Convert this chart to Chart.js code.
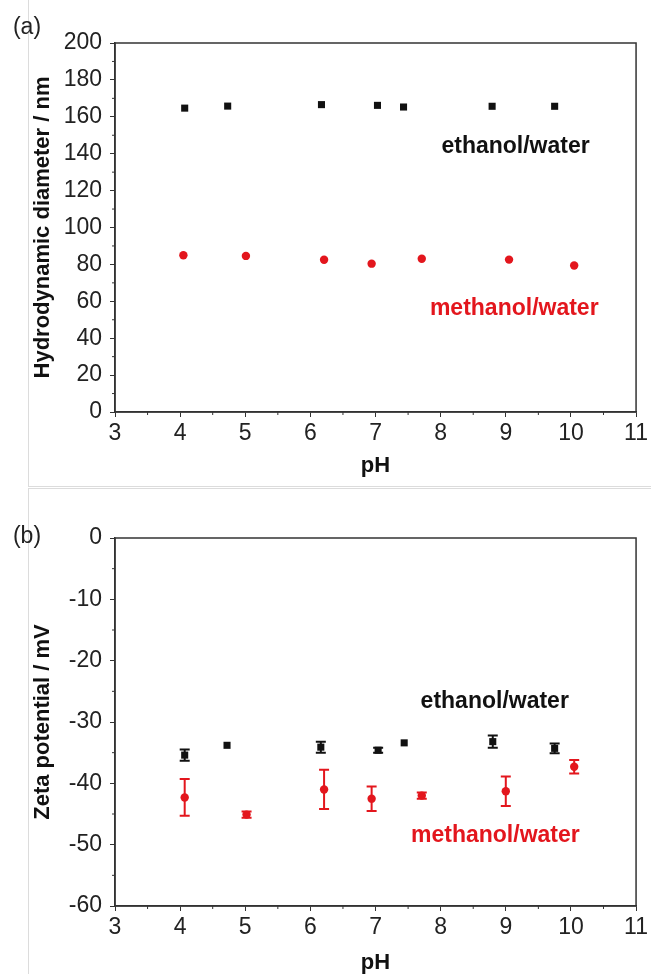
<!DOCTYPE html>
<html>
<head>
<meta charset="utf-8">
<script src="https://cdn.jsdelivr.net/npm/chart.js@4.4.1/dist/chart.umd.min.js"></script>
<style>
  html, body { margin: 0; padding: 0; background: #fff; }
  body { width: 651px; height: 974px; position: relative; overflow: hidden; }
  .panel { position: absolute; left: 28px; right: 0; border-left: 1px solid #dcdcdc; }
  #panelA { top: 0; height: 486px; border-bottom: 1px solid #dcdcdc; }
  #panelB { top: 488px; bottom: 0; border-top: 1px solid #dcdcdc; }
  .plot { position: absolute; left: 0; width: 651px; }
  #sizeWrap { top: 0; height: 487px; }
  #zetaWrap { top: 488px; height: 486px; }
</style>
</head>
<body>
<div class="panel" id="panelA"></div>
<div class="panel" id="panelB"></div>
<div class="plot" id="sizeWrap"><canvas id="sizeChart"></canvas></div>
<div class="plot" id="zetaWrap"><canvas id="zetaChart"></canvas></div>

<script>
// (a) hydrodynamic diameter vs pH
const phEthanolSize = [4.07, 4.73, 6.17, 7.03, 7.43, 8.79, 9.75];
const sizeEthanol = [164.7, 165.8, 166.6, 166.2, 165.3, 165.7, 165.7];
const phMethanolSize = [4.05, 5.01, 6.21, 6.94, 7.71, 9.05, 10.05];
const sizeMethanol = [85.0, 84.6, 82.5, 80.4, 83.1, 82.6, 79.4];

// (b) zeta potential vs pH, with standard deviations
const phEthanolZeta = [4.07, 4.72, 6.16, 7.04, 7.44, 8.80, 9.75];
const zetaEthanol = [-35.4, -33.8, -34.1, -34.6, -33.4, -33.2, -34.3];
const zetaEthanolErr = [0.9, 0, 0.9, 0.4, 0, 1.0, 0.8];
const phMethanolZeta = [4.07, 5.02, 6.21, 6.94, 7.71, 9.00, 10.05];
const zetaMethanol = [-42.3, -45.1, -41.0, -42.5, -42.0, -41.3, -37.3];
const zetaMethanolErr = [3.0, 0.5, 3.2, 2.0, 0.5, 2.4, 1.1];

const FONT = "'Liberation Sans', Arial, sans-serif";
const BLACK = "#111111";
const RED = "#e3161d";

const pts = (xs, ys) => xs.map((x, i) => ({ x: x, y: ys[i] }));

// frame, minor ticks, error bars and in-plot labels
const extras = {
  id: "extras",
  beforeDatasetsDraw(chart) {
    const ctx = chart.ctx, ys = chart.scales.y;
    chart.data.datasets.forEach((ds, i) => {
      if (!ds.errors) return;
      chart.getDatasetMeta(i).data.forEach((el, j) => {
        const v = ds.data[j].y, e = ds.errors[j];
        if (!e) return;
        const top = ys.getPixelForValue(v + e), bot = ys.getPixelForValue(v - e);
        ctx.save();
        ctx.strokeStyle = ds.backgroundColor;
        ctx.lineWidth = 2;
        ctx.beginPath();
        ctx.moveTo(el.x, top); ctx.lineTo(el.x, bot);
        ctx.moveTo(el.x - 5, top); ctx.lineTo(el.x + 5, top);
        ctx.moveTo(el.x - 5, bot); ctx.lineTo(el.x + 5, bot);
        ctx.stroke();
        ctx.restore();
      });
    });
  },
  afterDraw(chart, args, opts) {
    const ctx = chart.ctx, a = chart.chartArea;
    const xs = chart.scales.x, ys = chart.scales.y;
    ctx.save();
    ctx.strokeStyle = "#333";
    ctx.lineWidth = 1.5;
    ctx.strokeRect(a.left, a.top, a.right - a.left, a.bottom - a.top);

    // minor ticks halfway between major ones
    ctx.lineWidth = 1;
    ctx.beginPath();
    for (let v = xs.min + 0.5; v < xs.max; v += 1) {
      const px = xs.getPixelForValue(v);
      ctx.moveTo(px, a.bottom); ctx.lineTo(px, a.bottom + 3);
    }
    const half = opts.yStep / 2;
    for (let v = ys.min + half; v < ys.max; v += opts.yStep) {
      const py = ys.getPixelForValue(v);
      ctx.moveTo(a.left, py); ctx.lineTo(a.left - 3, py);
    }
    ctx.stroke();

    // panel letter
    ctx.fillStyle = "#222";
    ctx.font = "23px " + FONT;
    ctx.textAlign = "center";
    ctx.textBaseline = "middle";
    ctx.fillText(opts.letter, 27, opts.letterY);

    // series labels
    ctx.font = "bold 23px " + FONT;
    opts.notes.forEach(n => {
      ctx.fillStyle = n.color;
      ctx.fillText(n.text, xs.getPixelForValue(n.x), ys.getPixelForValue(n.y));
    });
    ctx.restore();
  }
};

function buildOptions(cfg) {
  return {
    responsive: true,
    maintainAspectRatio: false,
    animation: false,
    layout: { padding: { top: cfg.padTop, right: 14, left: 0, bottom: 0 } },
    plugins: {
      legend: { display: false },
      tooltip: { enabled: false },
      extras: cfg.extras
    },
    scales: {
      x: {
        type: "linear",
        min: 3, max: 11,
        afterFit(scale) { scale.height = cfg.xAxisHeight; },
        ticks: { stepSize: 1, color: "#222", padding: 3, maxRotation: 0,
                 font: { family: FONT, size: 23 } },
        grid: { drawOnChartArea: false, tickLength: 5, tickColor: "#333", tickWidth: 1 },
        border: { color: "#333", width: 1.5 },
        title: { display: true, text: "pH", color: "#111",
                 font: { family: FONT, size: 22, weight: "bold", lineHeight: 1 },
                 padding: { top: 0, bottom: cfg.xTitlePad } }
      },
      y: {
        min: cfg.yMin, max: cfg.yMax,
        afterFit(scale) { scale.width = 115; },
        ticks: { stepSize: cfg.yStep, color: "#222", padding: 8,
                 font: { family: FONT, size: 23 } },
        grid: { drawOnChartArea: false, tickLength: 5, tickColor: "#333", tickWidth: 1 },
        border: { color: "#333", width: 1.5 },
        title: { display: true, text: cfg.yTitle, color: "#111",
                 font: { family: FONT, size: 22, weight: "bold", lineHeight: 1 },
                 padding: { top: 32, bottom: 0 } }
      }
    }
  };
}

new Chart(document.getElementById("sizeChart"), {
  type: "scatter",
  data: {
    datasets: [
      { label: "ethanol/water", data: pts(phEthanolSize, sizeEthanol),
        backgroundColor: BLACK, borderColor: BLACK, borderWidth: 0,
        pointStyle: "rect", pointRadius: 5 },
      { label: "methanol/water", data: pts(phMethanolSize, sizeMethanol),
        backgroundColor: RED, borderColor: RED, borderWidth: 0,
        pointStyle: "circle", pointRadius: 4.2 }
    ]
  },
  options: buildOptions({
    padTop: 43, xAxisHeight: 75, xTitlePad: 10,
    yMin: 0, yMax: 200, yStep: 20,
    yTitle: "Hydrodynamic diameter / nm",
    extras: {
      letter: "(a)", letterY: 28, yStep: 20,
      notes: [
        { text: "ethanol/water", x: 9.15, y: 143.6, color: BLACK },
        { text: "methanol/water", x: 9.13, y: 55.8, color: RED }
      ]
    }
  }),
  plugins: [extras]
});

new Chart(document.getElementById("zetaChart"), {
  type: "scatter",
  data: {
    datasets: [
      { label: "ethanol/water", data: pts(phEthanolZeta, zetaEthanol), errors: zetaEthanolErr,
        backgroundColor: BLACK, borderColor: BLACK, borderWidth: 0,
        pointStyle: "rect", pointRadius: 5 },
      { label: "methanol/water", data: pts(phMethanolZeta, zetaMethanol), errors: zetaMethanolErr,
        backgroundColor: RED, borderColor: RED, borderWidth: 0,
        pointStyle: "circle", pointRadius: 4.2 }
    ]
  },
  options: buildOptions({
    padTop: 50, xAxisHeight: 68, xTitlePad: 0,
    yMin: -60, yMax: 0, yStep: 10,
    yTitle: "Zeta potential / mV",
    extras: {
      letter: "(b)", letterY: 49, yStep: 10,
      notes: [
        { text: "ethanol/water", x: 8.83, y: -26.7, color: BLACK },
        { text: "methanol/water", x: 8.84, y: -48.5, color: RED }
      ]
    }
  }),
  plugins: [extras]
});
</script>
</body>
</html>
